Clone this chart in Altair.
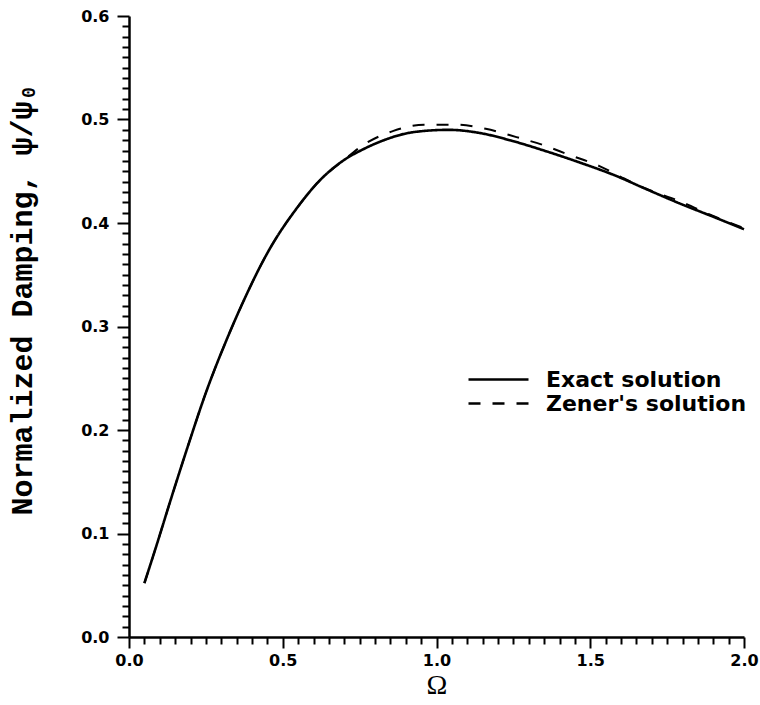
import altair as alt
import pandas as pd

# ---- data ----
series_names = ["Exact solution", "Zener's solution"]

omega_exact = [0.05, 0.09, 0.135, 0.19, 0.25, 0.32, 0.37, 0.45, 0.55, 0.62, 0.70,
               0.76, 0.82, 0.93, 1.04, 1.14, 1.25, 1.36, 1.47, 1.58, 1.68, 1.79, 1.90, 2.00]
psi_exact = [0.052, 0.089, 0.132, 0.183, 0.236, 0.289, 0.323, 0.371, 0.416, 0.441, 0.461,
             0.471, 0.479, 0.488, 0.490, 0.487, 0.479, 0.469, 0.458, 0.446, 0.433, 0.419, 0.406, 0.394]

omega_zener = [0.05, 0.09, 0.135, 0.19, 0.25, 0.32, 0.37, 0.45, 0.55, 0.62, 0.70,
               0.76, 0.86, 0.96, 1.06, 1.16, 1.26, 1.35, 1.43, 1.53, 1.61, 1.70, 1.80, 1.89, 2.00]
psi_zener = [0.052, 0.089, 0.132, 0.183, 0.236, 0.289, 0.323, 0.371, 0.416, 0.441, 0.461,
             0.475, 0.489, 0.495, 0.495, 0.491, 0.483, 0.475, 0.466, 0.455, 0.443, 0.431, 0.420, 0.408, 0.395]

x_ticks = [round(i * 0.05, 2) for i in range(41)]
y_ticks = [round(i * 0.01, 2) for i in range(61)]

df = pd.concat([
    pd.DataFrame({"omega": omega_exact, "psi": psi_exact, "series": series_names[0]}),
    pd.DataFrame({"omega": omega_zener, "psi": psi_zener, "series": series_names[1]}),
], ignore_index=True)

x_major = "abs(datum.value*2 - round(datum.value*2)) < 0.001"
y_major = "abs(datum.value*10 - round(datum.value*10)) < 0.001"

x_enc = alt.X(
    "omega:Q",
    scale=alt.Scale(domain=[0, 2.0], nice=False, zero=False),
    axis=alt.Axis(
        values=x_ticks,
        labelExpr=f"({x_major}) ? format(datum.value, '.1f') : ''",
        tickSize={"condition": {"test": x_major, "value": 11}, "value": 7},
        labelPadding=4,
        labelOverlap=False,
        labelFlush=False,
        title="Ω",
        titleFont="Liberation Serif",
        titleFontSize=28,
        titleFontWeight="normal",
        titlePadding=3,
    ),
)
y_enc = alt.Y(
    "psi:Q",
    scale=alt.Scale(domain=[0, 0.6], nice=False),
    axis=alt.Axis(
        values=y_ticks,
        labelExpr=f"({y_major}) ? format(datum.value, '.1f') : ''",
        tickSize={"condition": {"test": y_major, "value": 12}, "value": 7},
        labelPadding=8,
        labelOverlap=False,
        labelFlush=False,
        title="Normalized Damping, ψ/ψ₀",
        titleFont="Liberation Mono",
        titleFontSize=30,
        titleFontWeight="bold",
        titleX=-92,
        titleY=283,
    ),
)

dash_enc = alt.StrokeDash(
    "series:N",
    scale=alt.Scale(domain=series_names, range=[[1, 0], [12, 12]]),
    legend=alt.Legend(
        title=None,
        orient="none",
        legendX=358,
        legendY=352,
        padding=0,
        rowPadding=1,
        symbolType="M-3,0L3,0",
        symbolSize=400,
        symbolStrokeWidth=2.5,
        symbolStrokeColor="black",
        labelFont="DejaVu Sans",
        labelFontWeight="bold",
        labelFontSize=22,
        labelColor="black",
        labelOffset=36,
        labelLimit=400,
    ),
)

base = alt.Chart(df)
zener = base.transform_filter(alt.datum.series == series_names[1]).mark_line(
    color="black", strokeWidth=2, interpolate="monotone"
).encode(x=x_enc, y=y_enc, strokeDash=dash_enc)
exact = base.transform_filter(alt.datum.series == series_names[0]).mark_line(
    color="black", strokeWidth=2.6, interpolate="monotone"
).encode(x=x_enc, y=y_enc, strokeDash=dash_enc)

chart = (
    alt.layer(zener, exact)
    .properties(
        width=615,
        height=621,
        autosize=alt.AutoSizeParams(type="none"),
        padding={"left": 129, "top": 16, "right": 16, "bottom": 68},
        background="white",
    )
    .configure_view(strokeWidth=0)
    .configure_axis(
        domainColor="black",
        domainWidth=2.5,
        tickColor="black",
        tickWidth=2,
        labelFont="DejaVu Sans",
        labelFontWeight="bold",
        labelFontSize=16,
        labelColor="black",
        titleColor="black",
        grid=False,
    )
)

chart.save("out.html", embed_options={"renderer": "svg", "actions": False})
